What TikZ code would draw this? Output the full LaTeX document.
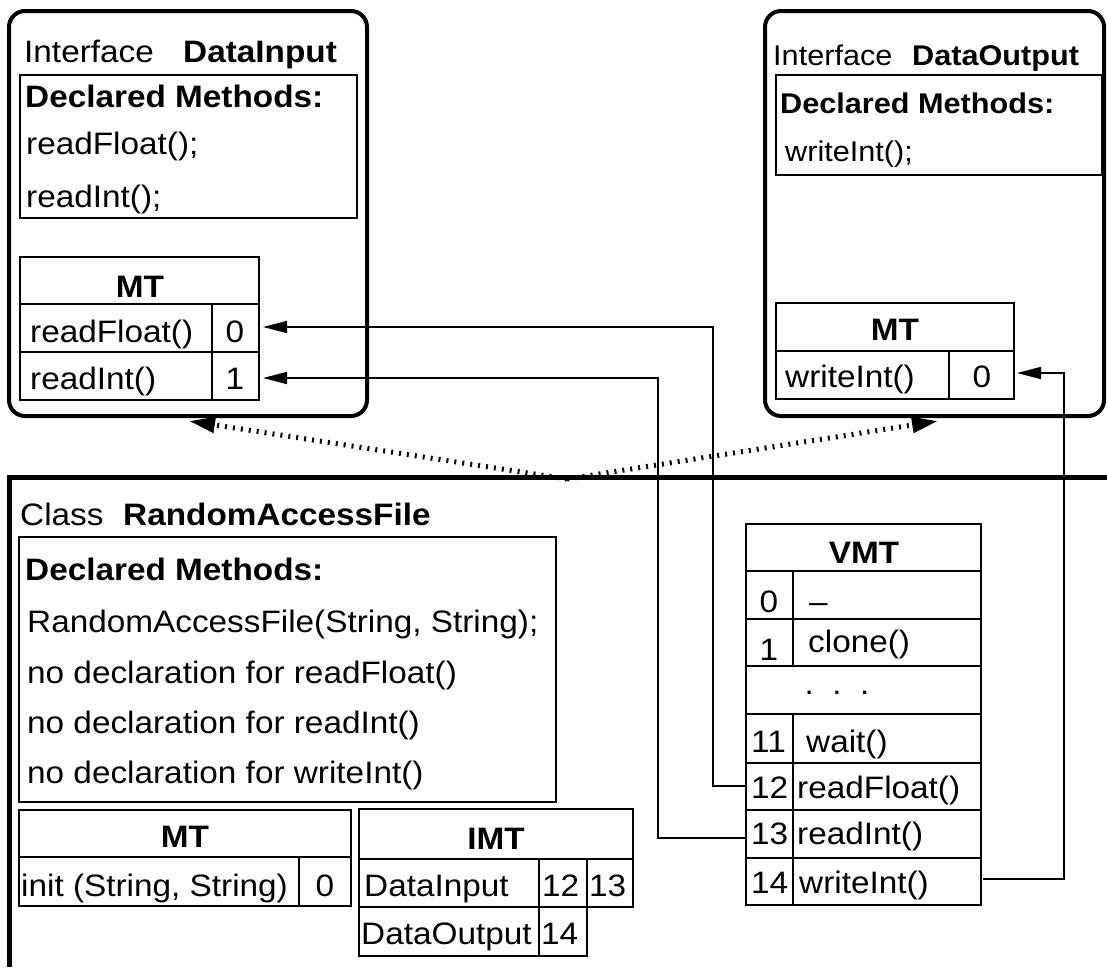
\documentclass[tikz,border=0pt]{standalone}
\usepackage{fontspec}
\setmainfont{Liberation Sans}[FakeStretch=1.075]
\usetikzlibrary{arrows.meta}
\newcommand\fA{\fontsize{31}{36}\selectfont}
\newcommand\fB{\fontsize{28.5}{33}\selectfont}
\begin{document}
\begin{tikzpicture}[x=1pt,y=-1pt,
  txt/.style={inner sep=0pt,anchor=base west,font=\fA},
  ctxt/.style={inner sep=0pt,anchor=base,font=\fA},
  bfA/.style={font=\fA\bfseries},
  smB/.style={font=\fB},
  bfB/.style={font=\fB\bfseries},
  ifbox/.style={line width=4pt,rounded corners=16pt},
  thinl/.style={line width=1.6pt},
  arr/.style={line width=1.6pt,-{Triangle[length=24pt,width=12pt]}},
  dotarr/.style={line width=5pt,dash pattern=on 2pt off 6pt,-{Triangle[length=26pt,width=15pt]}}]
\path[use as bounding box] (0,0) rectangle (1107,967);

% ---------- Interface DataInput ----------
\draw[ifbox] (9,11) rectangle (367,416);
\node[txt] (ifA) at (24,62) {Interface};
\node[txt,bfA] (ifAn) at (183,62) {DataInput};
\draw[thinl] (20,75) rectangle (357,218);
\node[txt,bfA] (dmA) at (25,107) {Declared Methods:};
\node[txt] (mA1) at (26,154) {readFloat();};
\node[txt] (mA2) at (26,207) {readInt();};
\draw[thinl] (20,257) rectangle (259,400);
\draw[thinl] (20,304) -- (259,304) (20,352) -- (259,352) (212,304) -- (212,400);
\node[ctxt,bfA] (mtA) at (140,297) {MT};
\node[txt] (mtA1) at (30,342) {readFloat()};
\node[ctxt] (mtA1i) at (235,342) {0};
\node[txt] (mtA2) at (30,389) {readInt()};
\node[ctxt] (mtA2i) at (235,389) {1};
\coordinate (inA0) at (263,327);
\coordinate (inA1) at (263,378);

% ---------- Interface DataOutput ----------
\draw[ifbox] (765,11) rectangle (1104,416);
\node[txt,smB] (ifB) at (773,65) {Interface};
\node[txt,bfB] (ifBn) at (912,65) {DataOutput};
\draw[thinl] (776,75) rectangle (1102,175);
\node[txt,bfB] (dmB) at (780,113) {Declared Methods:};
\node[txt,smB] (mB1) at (785,161) {writeInt();};
\draw[thinl] (776,303) rectangle (1014,399);
\draw[thinl] (776,351) -- (1014,351) (949,351) -- (949,399);
\node[ctxt,bfA] (mtB) at (895,340) {MT};
\node[txt] (mtB1) at (785,387) {writeInt()};
\node[ctxt] (mtB1i) at (982,387) {0};
\coordinate (outB0) at (1017,373);

% ---------- Class RandomAccessFile ----------
\draw[line width=5pt] (9,967) -- (9,477) -- (1107,477);
\node[txt] (cls) at (20,525) {Class};
\node[txt,bfA] (clsn) at (123,525) {RandomAccessFile};
\draw[thinl] (19,537) rectangle (556,802);
\node[txt,bfA] (dmC) at (25,580) {Declared Methods:};
\node[txt] (mC1) at (27,632) {RandomAccessFile(String, String);};
\node[txt] (mC2) at (27,683) {no declaration for readFloat()};
\node[txt] (mC3) at (27,733) {no declaration for readInt()};
\node[txt] (mC4) at (27,783) {no declaration for writeInt()};

% MT of class
\draw[thinl] (19,810) rectangle (351,906);
\draw[thinl] (19,857) -- (351,857) (299,857) -- (299,906);
\node[ctxt,bfA] (mtC) at (185,847) {MT};
\node[txt] (mtC1) at (21,896) {init (String, String)};
\node[ctxt] (mtC1i) at (325,896) {0};

% IMT
\draw[thinl] (359,809) rectangle (633,907);
\draw[thinl] (359,859) -- (633,859);
\draw[thinl] (359,907) -- (359,956) -- (587,956) -- (587,859);
\draw[thinl] (539,859) -- (539,956);
\node[ctxt,bfA] (imt) at (496,849) {IMT};
\node[txt] (imt1) at (364,896) {DataInput};
\node[txt] (imt1a) at (542,896) {12};
\node[txt] (imt1b) at (589,896) {13};
\node[txt] (imt2) at (361,944) {DataOutput};
\node[txt] (imt2a) at (541,944) {14};

% VMT
\draw[thinl] (746,524) rectangle (981,905);
\foreach \yy in {571,619,666,714,763,810,858} \draw[thinl] (746,\yy) -- (981,\yy);
\draw[thinl] (793,571) -- (793,666) (793,714) -- (793,905);
\node[ctxt,bfA] (vmt) at (864,563) {VMT};
\node[ctxt] (v0n) at (769,612) {0};
\node[txt] (v0t) at (809,612) {--};
\node[ctxt] (v1n) at (769,660) {1};
\node[txt] (v1t) at (808,652) {clone()};
\node[ctxt] (vdots) at (837,694) {.\ \ .\ \ .};
\node[txt] (v11n) at (751,752) {11};
\node[txt] (v11t) at (806,752) {wait()};
\node[txt] (v12n) at (751,798) {12};
\node[txt] (v12t) at (797,798) {readFloat()};
\node[txt] (v13n) at (751,844) {13};
\node[txt] (v13t) at (797,844) {readInt()};
\node[txt] (v14n) at (751,893) {14};
\node[txt] (v14t) at (799,893) {writeInt()};
\coordinate (v12) at (746,786);
\coordinate (v13) at (746,838);
\coordinate (v14) at (983,879);

% connectors
\draw[arr] (v12) -- ++(-33,0) |- (inA0);
\draw[arr] (v13) -- ++(-88,0) |- (inA1);
\draw[arr] (v14) -- ++(81,0) |- (outB0);

% dotted implementation arrows
\coordinate (jn) at (567,479);
\coordinate (tipA) at (189,421);
\coordinate (tipB) at (938,421);
\draw[dotarr] (jn) -- (tipA);
\draw[dotarr] (jn) -- (tipB);
\end{tikzpicture}
\end{document}
